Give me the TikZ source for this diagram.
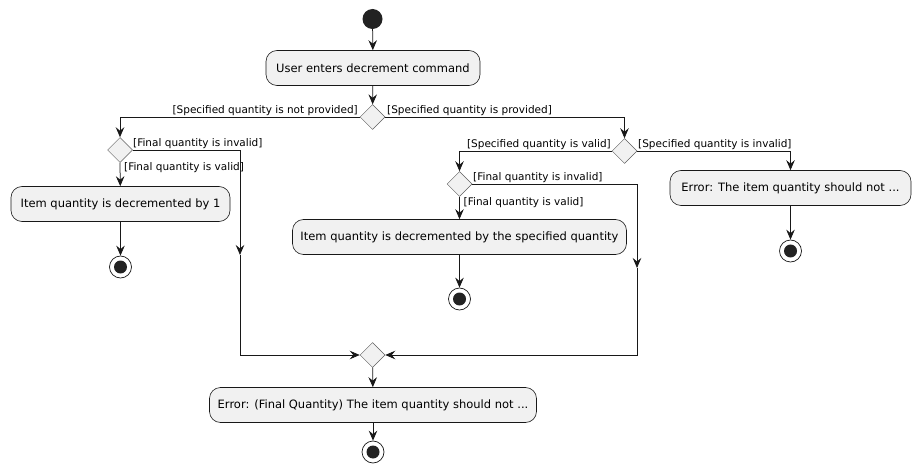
\documentclass[tikz,border=0pt]{standalone}
\usepackage{fontspec}
\setmainfont{DejaVu Sans}
\usetikzlibrary{shapes.geometric,arrows.meta}
\definecolor{boxfill}{HTML}{F1F1F1}
\definecolor{linec}{HTML}{181818}
\definecolor{dotc}{HTML}{222222}
\tikzset{
  act/.style={draw=linec, fill=boxfill, rounded corners=11pt, minimum height=35pt, inner xsep=0pt, font=\fontsize{11.5}{13}\selectfont, line width=0.6pt},
  dia/.style={diamond, draw=linec!70, fill=boxfill, minimum width=25pt, minimum height=25pt, inner sep=0pt, line width=0.5pt},
  arr/.style={draw=linec, line width=0.75pt, -{Stealth[length=10pt,width=8.5pt,inset=3.5pt]}},
  ln/.style={draw=linec, line width=0.75pt},
  lbl/.style={font=\fontsize{10.5}{12}\selectfont, inner sep=1pt},
  startdot/.style={circle, fill=dotc, minimum size=20pt, inner sep=0pt},
  enddot/.style={circle, draw=linec, line width=0.7pt, fill=white, minimum size=22pt, inner sep=0pt, path picture={\fill[dotc] (path picture bounding box.center) circle (6.5pt);}}
}
\begin{document}
\begin{tikzpicture}[x=1pt,y=-1pt]
\useasboundingbox (0,0) rectangle (921,473);
\node[startdot] (s) at (372.5,19) {};
\node[act, minimum width=214pt] (b1) at (373,68) {User enters decrement command};
\node[dia] (d1) at (372.5,117) {};
\node[dia] (d2) at (120,150) {};
\node[dia] (d3) at (624.5,151) {};
\node[dia] (d4) at (459.5,184) {};
\node[act, minimum width=219pt] (b2) at (120.5,204) {Item quantity is decremented by 1};
\node[act, minimum width=334pt] (b3) at (459.5,237) {Item quantity is decremented by the specified quantity};
\node[act, minimum width=241pt] (b4) at (790.5,188) {Error: The item quantity should not ...};
\node[enddot] (e2) at (120.5,267) {};
\node[enddot] (e3) at (459.5,299) {};
\node[enddot] (e4) at (790.5,251) {};
\node[dia] (m) at (372.5,355) {};
\node[act, minimum width=327pt] (b5) at (373,405) {Error: (Final Quantity) The item quantity should not ...};
\node[enddot] (e5) at (373,452) {};
\coordinate (c1) at (240,255);
\coordinate (c2) at (637,268);

\draw[arr] (s) -- (b1);
\draw[arr] (b1) -- (d1);
\draw[arr] (d1.west) -| (d2.north);
\draw[arr] (d1.east) -| (d3.north);
\node[lbl, anchor=south east] (l1) at (359,117) {[Specified quantity is not provided]};
\node[lbl, anchor=south west] (l2) at (386,117) {[Specified quantity is provided]};
\draw[arr] (d2.south) -- (b2);
\node[lbl, anchor=west] (l3) at (123,168) {[Final quantity is valid]};
\draw[arr] (d2.east) -| (c1);
\draw[arr] (c1) |- (m.west);
\node[lbl, anchor=south west] (l4) at (132,150) {[Final quantity is invalid]};
\draw[arr] (b2) -- (e2);
\draw[arr] (d3.west) -| (d4.north);
\node[lbl, anchor=south east] (l5) at (612,151) {[Specified quantity is valid]};
\draw[arr] (d3.east) -| (b4.north);
\node[lbl, anchor=south west] (l6) at (637,151) {[Specified quantity is invalid]};
\draw[arr] (b4) -- (e4);
\draw[arr] (d4.south) -- (b3);
\node[lbl, anchor=west] (l7) at (462.5,203) {[Final quantity is valid]};
\draw[arr] (d4.east) -| (c2);
\draw[arr] (c2) |- (m.east);
\node[lbl, anchor=south west] (l8) at (472,184) {[Final quantity is invalid]};
\draw[arr] (b3) -- (e3);
\draw[arr] (m) -- (b5);
\draw[arr] (b5) -- (e5);
\end{tikzpicture}
\end{document}
